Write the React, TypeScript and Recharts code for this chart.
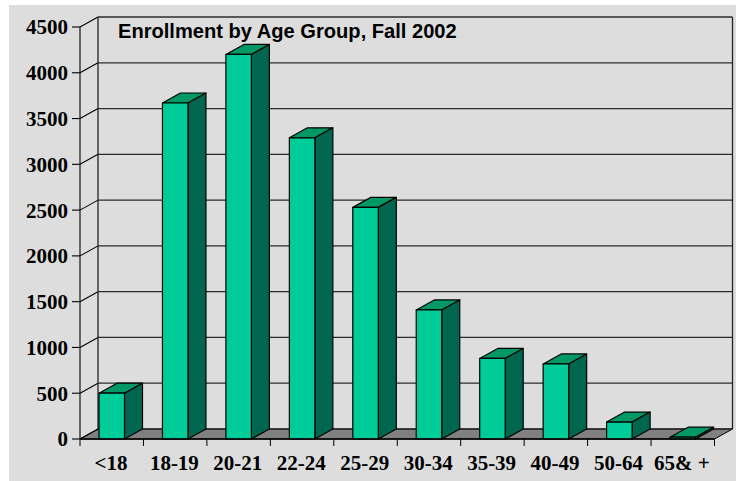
import React from "react";
import { BarChart, Bar, XAxis, YAxis, CartesianGrid } from "recharts";

const categories = ["<18", "18-19", "20-21", "22-24", "25-29", "30-34", "35-39", "40-49", "50-64", "65& +"];
const enrollment = [500, 3670, 4200, 3290, 2530, 1410, 880, 820, 185, 20];
const yTicks = [0, 500, 1000, 1500, 2000, 2500, 3000, 3500, 4000, 4500];
const data = categories.map((c, i) => ({ group: c, value: enrollment[i] }));

const DX = 18;
const DY = -10;
const WIDTH = 736;
const HEIGHT = 481;
const LEFT = 80;
const RIGHT = 21.5;
const TOP = 27;
const BOTTOM = 42;
const BAND = (WIDTH - LEFT - RIGHT) / categories.length;
const plotBottom = HEIGHT - BOTTOM;
const serif = "'Liberation Serif', 'Times New Roman', serif";

function GridLine(props: any) {
  const { x1, x2, y1 } = props;
  const isFloor = Math.abs(y1 - plotBottom) < 1;
  return (
    <g>
      {isFloor && (
        <path d={`M${x1},${y1}L${x2},${y1}L${x2 + DX},${y1 + DY}L${x1 + DX},${y1 + DY}Z`} fill="#808080" stroke="#000" strokeWidth={1} />
      )}
      <line x1={x1 + DX} x2={x2 + DX} y1={y1 + DY} y2={y1 + DY} stroke="#2b2b2b" strokeWidth={1.3} />
      <line x1={x1} x2={x1 + DX} y1={y1} y2={y1 + DY} stroke="#000" strokeWidth={1.1} />
      <line x1={x1 - 8} x2={x1} y1={y1} y2={y1} stroke="#000" strokeWidth={1.1} />
      {y1 < TOP + 1 && (
        <g>
          <line x1={x1 + DX} x2={x1 + DX} y1={y1 + DY} y2={plotBottom + DY} stroke="#222" strokeWidth={1.3} />
          <line x1={x2 + DX} x2={x2 + DX} y1={y1 + DY} y2={plotBottom + DY} stroke="#222" strokeWidth={1.3} />
        </g>
      )}
    </g>
  );
}

function Bar3D(props: any) {
  const { x, y, width, height } = props;
  const r = x + width;
  const b = y + height;
  return (
    <g stroke="#000" strokeWidth={1.2} strokeLinejoin="round">
      <path d={`M${x},${y}L${x + DX},${y + DY}L${r + DX},${y + DY}L${r},${y}Z`} fill="#009966" />
      <path d={`M${r},${y}L${r + DX},${y + DY}L${r + DX},${b + DY}L${r},${b}Z`} fill="#006650" />
      <rect x={x} y={y} width={width} height={height} fill="#00CC99" />
    </g>
  );
}

function XTick(props: any) {
  const { x, payload, index } = props;
  return (
    <g>
      {index === 0 && <line x1={x - BAND / 2} x2={x - BAND / 2} y1={plotBottom} y2={plotBottom + 7} stroke="#000" />}
      <line x1={x + BAND / 2} x2={x + BAND / 2} y1={plotBottom} y2={plotBottom + 7} stroke="#000" />
      <text x={x - 0.8} y={plotBottom + 31} textAnchor="middle" fontFamily={serif} fontWeight="bold" fontSize={21} fill="#000">
        {payload.value}
      </text>
    </g>
  );
}

export default function App() {
  return (
    <div style={{ position: "absolute", left: 0, top: 0, width: WIDTH, height: HEIGHT, background: "#fff", overflow: "hidden" }}>
      <div style={{ position: "absolute", left: 9, top: 5, right: 0, bottom: 0, background: "#DDDDDD" }} />
      <div style={{ position: "absolute", left: 0, top: 0 }}>
        <BarChart width={WIDTH} height={HEIGHT} data={data} margin={{ left: 0, right: RIGHT, top: TOP, bottom: 0 }} barCategoryGap={0}>
          <CartesianGrid horizontal={(p: any) => <GridLine key={p.key ?? p.index} {...p} />} vertical={false} />
          <XAxis
            dataKey="group"
            height={BOTTOM}
            axisLine={{ stroke: "#000", strokeWidth: 1.5 }}
            tickLine={false}
            interval={0}
            tick={<XTick />}
          />
          <YAxis
            width={LEFT}
            domain={[0, 4500]}
            ticks={yTicks}
            interval={0}
            axisLine={{ stroke: "#000", strokeWidth: 1.1 }}
            tickLine={false}
            tickSize={0}
            tickMargin={12}
            tick={{ fontFamily: serif, fontWeight: "bold", fontSize: 21, fill: "#000" }}
          />
          <Bar dataKey="value" barSize={25.5} shape={<Bar3D />} isAnimationActive={false} />
        </BarChart>
      </div>
      <div style={{ position: "absolute", left: 118, top: 20, fontFamily: "'Liberation Sans', Arial, sans-serif", fontWeight: "bold", fontSize: 20.1, color: "#000", whiteSpace: "nowrap", lineHeight: "22px" }}>
        Enrollment by Age Group, Fall 2002
      </div>
    </div>
  );
}
